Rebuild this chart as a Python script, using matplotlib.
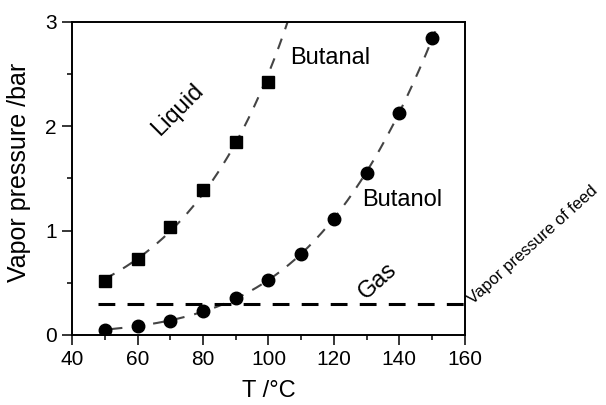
import numpy as np
import matplotlib
matplotlib.use("Agg")
import matplotlib.pyplot as plt
from matplotlib.ticker import MultipleLocator

plt.rcParams['font.family'] = ['Liberation Sans', 'DejaVu Sans']

# Datos
T_butanal = [50, 60, 70, 80, 90, 100]
p_butanal = [0.52, 0.73, 1.03, 1.39, 1.85, 2.42]

T_butanol = [50, 60, 70, 80, 90, 100, 110, 120, 130, 140, 150]
p_butanol = [0.05, 0.09, 0.13, 0.23, 0.35, 0.53, 0.78, 1.11, 1.55, 2.13, 2.85]

p_feed = 0.3

fig = plt.figure(figsize=(6.06, 4.05), dpi=100)
ax = fig.add_axes([0.119, 0.173, 0.648, 0.773])

gris = '#444444'

# curvas de ajuste: butanal ln p lineal, butanol ln p cuadrático
c1 = np.polyfit(T_butanal, np.log(p_butanal), 1)
t1 = np.linspace(50, 112, 200)
ax.plot(t1, np.exp(np.polyval(c1, t1)), ls=(0, (5.3, 4.8)), color=gris, lw=1.5)

c2 = np.polyfit(T_butanol, np.log(p_butanol), 2)
t2 = np.linspace(52, 151, 200)
ax.plot(t2, np.exp(np.polyval(c2, t2)), ls=(0, (5.3, 4.8)), color=gris, lw=1.5)

# presión de vapor de la alimentación
ax.plot([48, 160], [p_feed, p_feed], ls=(0, (5.5, 4)), color='black', lw=2.2)

ax.plot(T_butanal, p_butanal, 's', color='black', ms=8.8, ls='none')
ax.plot(T_butanol, p_butanol, 'o', color='black', ms=9, ls='none')

ax.set_xlim(40, 160)
ax.set_ylim(0, 3)
ax.xaxis.set_major_locator(MultipleLocator(20))
ax.xaxis.set_minor_locator(MultipleLocator(10))
ax.yaxis.set_major_locator(MultipleLocator(1))
ax.yaxis.set_minor_locator(MultipleLocator(0.5))
ax.tick_params(which='both', direction='out', width=1.1, labelsize=15)
ax.tick_params(which='major', length=7, pad=4)
ax.tick_params(which='minor', length=3.5)
for s in ax.spines.values():
    s.set_linewidth(1.4)

ax.set_xlabel("T /°C", fontsize=17)
ax.set_ylabel("Vapor pressure /bar", fontsize=18)
ax.xaxis.set_label_coords(0.5, -0.145)
ax.yaxis.set_label_coords(-0.105, 0.52)

ax.text(118.8, 2.65, "Butanal", fontsize=17, ha='center', va='center')
ax.text(141, 1.29, "Butanol", fontsize=17, ha='center', va='center')
ax.text(72.4, 2.16, "Liquid", fontsize=17, ha='center', va='center', rotation=45)
ax.text(133.4, 0.52, "Gas", fontsize=17, ha='center', va='center', rotation=42)
ax.text(180.8, 0.86, "Vapor pressure of feed", fontsize=12, ha='center', va='center',
        rotation=42, clip_on=False)

fig.savefig("out.png", dpi=100)
